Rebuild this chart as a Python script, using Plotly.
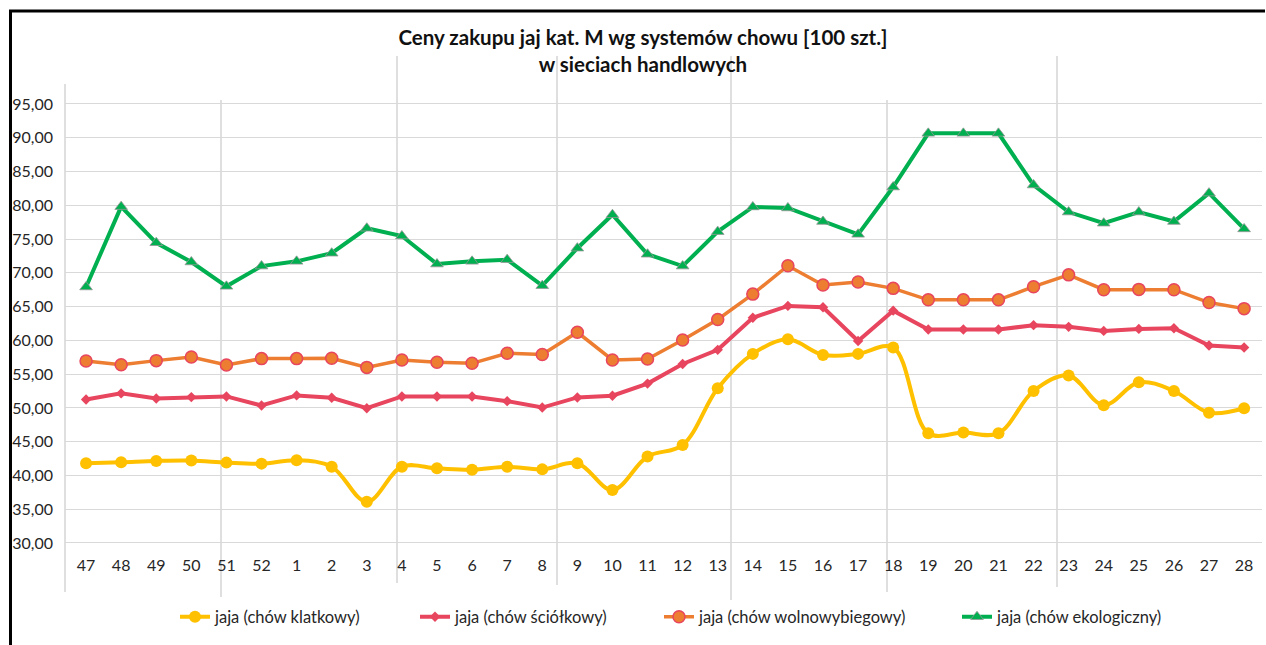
import plotly.graph_objects as go

# ---- data ----
weeks = ["47", "48", "49", "50", "51", "52"] + [str(i) for i in range(1, 29)]

klatkowy = [41.8, 41.95, 42.15, 42.2, 41.9, 41.75, 42.25, 41.3, 36.1, 41.3,
            41.05, 40.85, 41.3, 40.9, 41.8, 37.85, 42.8, 44.5, 52.9, 58.0,
            60.15, 57.85, 58.0, 58.95, 46.25, 46.35, 46.25, 52.5, 54.8, 50.4,
            53.8, 52.5, 49.3, 49.95]

sciolkowy = [51.25, 52.15, 51.4, 51.6, 51.7, 50.35, 51.85, 51.5, 49.95, 51.7,
             51.7, 51.7, 51.0, 50.05, 51.55, 51.8, 53.6, 56.5, 58.6, 63.35,
             65.1, 64.9, 59.9, 64.4, 61.6, 61.6, 61.6, 62.25, 62.0, 61.4,
             61.7, 61.8, 59.25, 58.95]

wolnowybiegowy = [56.95, 56.4, 57.0, 57.55, 56.35, 57.3, 57.3, 57.35, 56.0, 57.1,
                  56.75, 56.6, 58.1, 57.9, 61.2, 57.1, 57.25, 60.05, 63.1, 66.85,
                  71.05, 68.2, 68.65, 67.7, 66.0, 66.0, 66.0, 67.95, 69.7, 67.5,
                  67.55, 67.5, 65.6, 64.7]

ekologiczny = [67.9, 79.8, 74.45, 71.6, 68.0, 71.0, 71.7, 72.9, 76.6, 75.45,
               71.3, 71.7, 71.95, 68.1, 73.65, 78.6, 72.75, 71.0, 76.1, 79.75,
               79.6, 77.6, 75.7, 82.7, 90.65, 90.65, 90.65, 83.0, 79.0, 77.35,
               79.0, 77.6, 81.8, 76.5]

names = ["jaja (chów klatkowy)", "jaja (chów ściółkowy)",
         "jaja (chów wolnowybiegowy)", "jaja (chów ekologiczny)"]

title_text = "Ceny zakupu jaj kat. M wg systemów chowu [100 szt.]<br>w sieciach handlowych"

# ---- layout geometry (screen pixels; body margin removed by post_script) ----
W, H = 1266, 645
PL, PR, PT, PB = 65, 4, 95, 101


def px_x(x):
    return (x - PL) / (W - PL - PR)


def px_y(y):
    return (H - PB - y) / (H - PT - PB)


FONT = "Lato, 'Open Sans', 'Liberation Sans', sans-serif"

fig = go.Figure()

fig.add_trace(go.Scatter(
    x=weeks, y=klatkowy, name=names[0], mode="lines+markers",
    line=dict(color="#FFC000", width=4, shape="spline"),
    marker=dict(symbol="circle", size=12, color="#FFC000",
                line=dict(color="#FFC000", width=0)),
    legend="legend"))

fig.add_trace(go.Scatter(
    x=weeks, y=sciolkowy, name=names[1], mode="lines+markers",
    line=dict(color="#E8455E", width=4),
    marker=dict(symbol="diamond", size=8, color="#E8455E",
                line=dict(color="#E8455E", width=0)),
    legend="legend2"))

fig.add_trace(go.Scatter(
    x=weeks, y=wolnowybiegowy, name=names[2], mode="lines+markers",
    line=dict(color="#ED7D31", width=3.5),
    marker=dict(symbol="circle", size=12, color="#ED7D31",
                line=dict(color="#E8455E", width=1.5)),
    legend="legend3"))

fig.add_trace(go.Scatter(
    x=weeks, y=ekologiczny, name=names[3], mode="lines+markers",
    line=dict(color="#00B050", width=4),
    marker=dict(symbol="triangle-up", size=11, color="#00B050",
                line=dict(color="rgba(150,150,150,0.8)", width=1)),
    legend="legend4"))

# decorative vertical separators and frame (screen pixel positions)
shapes = []
vlines = [(65, 84, 592), (221, 100, 597), (397, 56, 583), (557, 56, 585),
          (731, 56, 600), (887, 100, 592), (1057, 56, 587)]
for x, y0, y1 in vlines:
    shapes.append(dict(type="line", xref="paper", yref="paper",
                       x0=px_x(x), x1=px_x(x), y0=px_y(y0), y1=px_y(y1),
                       line=dict(color="#BFBFBF", width=1), layer="below"))
# frame (top edge + left edge)
shapes.append(dict(type="line", xref="paper", yref="paper",
                   x0=px_x(9), x1=px_x(1265), y0=px_y(11), y1=px_y(11),
                   line=dict(color="black", width=3)))
shapes.append(dict(type="line", xref="paper", yref="paper",
                   x0=px_x(10.5), x1=px_x(10.5), y0=px_y(10), y1=px_y(645),
                   line=dict(color="black", width=3)))
# keep the upper-right corner of the frame clean
shapes.append(dict(type="rect", xref="paper", yref="paper",
                   x0=px_x(1245), x1=px_x(1266), y0=px_y(13.5), y1=px_y(80),
                   fillcolor="white", line=dict(width=0), layer="above"))

legend_style = dict(orientation="h", xanchor="left", yanchor="middle",
                    bgcolor="rgba(0,0,0,0)", borderwidth=0,
                    font=dict(family=FONT, size=16.5, color="#262626"),
                    itemwidth=30)
leg_x = [175, 415, 659, 957]
legends = {}
for i, lx in enumerate(leg_x):
    key = "legend" if i == 0 else f"legend{i + 1}"
    legends[key] = dict(legend_style, x=px_x(lx), y=px_y(617))

fig.update_layout(
    width=W, height=H,
    margin=dict(l=PL, r=PR, t=PT, b=PB, pad=0),
    paper_bgcolor="white", plot_bgcolor="white",
    separators=", ",
    title=dict(text=title_text, x=643 / W, xanchor="center",
               y=1 - 45 / H, yanchor="top",
               font=dict(family=FONT, size=20.5, color="#111111", weight="bold")),
    xaxis=dict(type="category", range=[-0.6, 33.51], showgrid=False,
               showline=False, zeroline=False, ticks="",
               tickfont=dict(family=FONT, size=16, color="#262626"),
               ticklabelstandoff=10),
    yaxis=dict(range=[29.85, 96.33], tick0=30, dtick=5, tickformat=".2f",
               showgrid=True, gridcolor="#D9D9D9", gridwidth=1.3,
               showline=False, zeroline=False, ticks="",
               tickfont=dict(family=FONT, size=16, color="#262626"),
               ticklabelstandoff=11),
    shapes=shapes,
    showlegend=True,
    **legends,
)

fig.write_html(
    "out.html",
    config={"displayModeBar": False},
    post_script="document.body.style.margin='0';document.body.style.overflow='hidden';",
)
